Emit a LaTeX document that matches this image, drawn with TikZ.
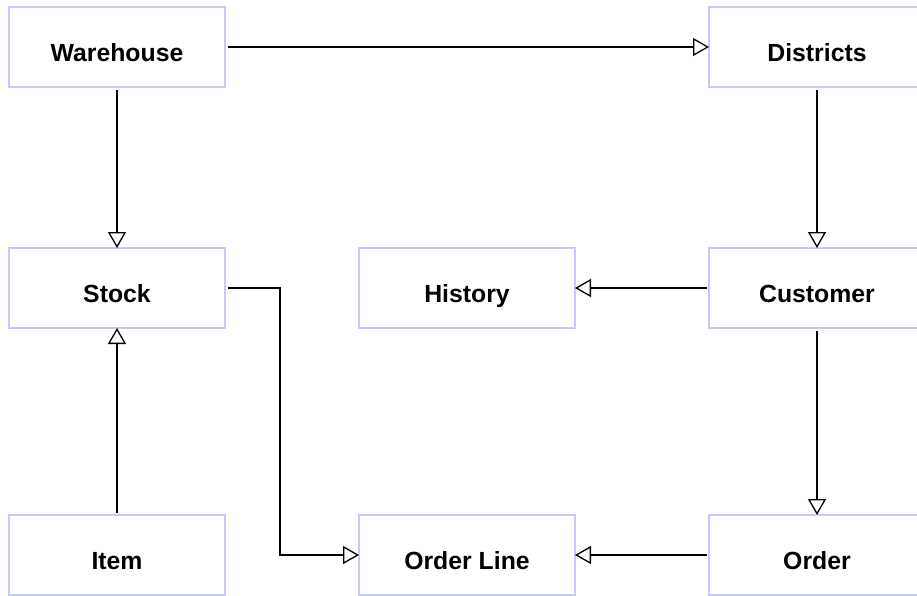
\documentclass[tikz,border=0pt]{standalone}
\usepackage{fontspec}
\setmainfont{Liberation Sans}
\usetikzlibrary{arrows.meta,calc,positioning}
\definecolor{boxline}{RGB}{200,200,255}

\begin{document}
\begin{tikzpicture}[x=1pt,y=-1pt,
  table/.style={draw=boxline,line width=1.4pt,minimum width=216pt,minimum height=80pt,
    inner sep=0pt,outer sep=0pt,text height=28pt,text depth=0pt,
    font=\fontsize{24.8}{29}\selectfont\bfseries},
  link/.style={line width=1.3pt,shorten <=2.5pt,-{Triangle[open,length=16pt,width=18pt]}}]
\useasboundingbox (0,0) rectangle (917,595);

\node[table] (warehouse) at (117,47) {Warehouse};
\node[table] (districts) at (817,47) {Districts};
\node[table] (stock) at (117,288) {Stock};
\node[table] (history) at (467,288) {History};
\node[table] (customer) at (817,288) {Customer};
\node[table] (item) at (117,555) {Item};
\node[table] (orderline) at (467,555) {Order Line};
\node[table] (order) at (817,555) {Order};

\draw[link] (warehouse) -- (districts);
\draw[link] (warehouse) -- (stock);
\draw[link] (districts) -- (customer);
\draw[link] (customer) -- (history);
\draw[link] (customer) -- (order);
\draw[link] (item) -- (stock);
\draw[link] (order) -- (orderline);

\coordinate (elbow) at ($(stock.east)+(55,0)$);
\draw[link] (stock.east) -- (elbow) |- (orderline.west);

\end{tikzpicture}
\end{document}
